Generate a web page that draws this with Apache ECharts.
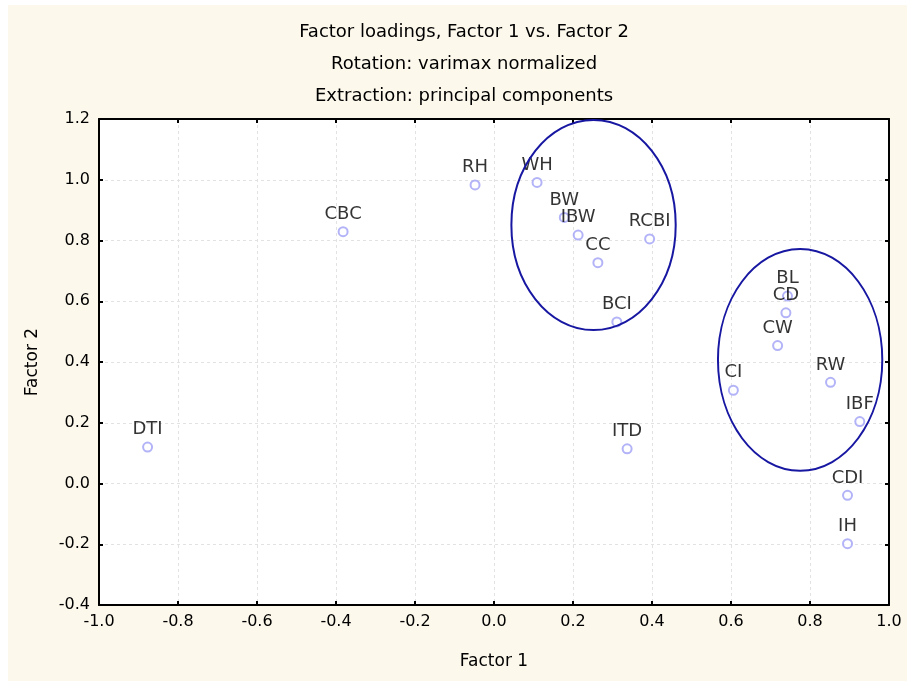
<!DOCTYPE html>
<html>
<head>
<meta charset="utf-8">
<script src="https://cdn.jsdelivr.net/npm/echarts@6/dist/echarts.min.js"></script>
<style>
  html, body { margin: 0; padding: 0; background: #ffffff; }
  .panel { position: absolute; left: 8px; top: 5px; width: 899px; height: 676px; background: #fdf8ec; }
  #chart { position: absolute; left: 0; top: 0; width: 907px; height: 681px; }
</style>
</head>
<body>
<div class="panel"></div>
<div id="chart"></div>
<script>
// factor loadings
const varNames = ['DTI', 'CBC', 'RH', 'WH', 'BW', 'IBW', 'CC', 'RCBI', 'BCI', 'ITD', 'BL', 'CD', 'CW', 'CI', 'RW', 'IBF', 'CDI', 'IH']
const factor1 = [-0.877, -0.382, -0.048, 0.109, 0.178, 0.213, 0.263, 0.394, 0.311, 0.337, 0.743, 0.739, 0.718, 0.606, 0.852, 0.926, 0.895, 0.895]
const factor2 = [0.120, 0.829, 0.983, 0.991, 0.876, 0.818, 0.727, 0.805, 0.532, 0.114, 0.617, 0.562, 0.454, 0.307, 0.333, 0.204, -0.039, -0.198]

// grouping ellipses: centre x, centre y, half width, half height (data units)
const ellipseCx = [0.252, 0.775]
const ellipseCy = [0.851, 0.407]
const ellipseRx = [0.208, 0.208]
const ellipseRy = [0.346, 0.365]

const xTicks = { min: -1.0, max: 1.0, interval: 0.2 }
const yTicks = { min: -0.4, max: 1.2, interval: 0.2 }

const chart = echarts.init(document.getElementById('chart'))
const font = 'DejaVu Sans, sans-serif'

const points = varNames.map((n, i) => ({ name: n, value: [factor1[i], factor2[i]] }))
const ellipses = ellipseCx.map((cx, i) => [cx, ellipseCy[i], ellipseRx[i], ellipseRy[i]])

const baseAxis = {
  axisLine: { show: true, onZero: false, lineStyle: { color: '#000', width: 2 } },
  axisTick: { show: true, inside: true, length: 4, lineStyle: { color: '#000', width: 2 } },
  splitLine: { show: false }
}
const gridLine = { show: true, lineStyle: { color: '#e2e2e2', type: [3, 3], width: 1 } }

const option = {
  animation: false,
  backgroundColor: 'transparent',
  title: {
    text: 'Factor loadings, Factor 1 vs. Factor 2\nRotation: varimax normalized\nExtraction: principal components',
    left: 459,
    textAlign: 'center',
    top: 11,
    textStyle: { fontFamily: font, fontSize: 18, fontWeight: 'normal', color: '#000', lineHeight: 32 }
  },
  grid: { left: 99, right: 18, top: 119, bottom: 76, show: true, backgroundColor: '#ffffff', borderWidth: 0 },
  xAxis: [
    {
      ...baseAxis,
      type: 'value', position: 'bottom',
      min: xTicks.min, max: xTicks.max, interval: xTicks.interval,
      name: 'Factor 1', nameLocation: 'middle', nameGap: 48,
      nameTextStyle: { fontFamily: font, fontSize: 17, color: '#000' },
      axisLabel: { fontFamily: font, fontSize: 16, color: '#000', margin: 9, formatter: v => v.toFixed(1) },
      splitLine: gridLine
    },
    {
      ...baseAxis,
      type: 'value', position: 'top',
      min: xTicks.min, max: xTicks.max, interval: xTicks.interval,
      axisLabel: { show: false }
    }
  ],
  yAxis: [
    {
      ...baseAxis,
      type: 'value', position: 'left',
      min: yTicks.min, max: yTicks.max, interval: yTicks.interval,
      name: 'Factor 2', nameLocation: 'middle', nameGap: 58,
      nameTextStyle: { fontFamily: font, fontSize: 17, color: '#000' },
      axisLabel: { fontFamily: font, fontSize: 16, color: '#000', margin: 9, formatter: v => v.toFixed(1) },
      splitLine: gridLine
    },
    {
      ...baseAxis,
      type: 'value', position: 'right',
      min: yTicks.min, max: yTicks.max, interval: yTicks.interval,
      axisLabel: { show: false }
    }
  ],
  series: [
    {
      type: 'scatter',
      data: points,
      symbol: 'emptyCircle',
      symbolSize: 9,
      itemStyle: { color: '#a0a0f6', borderColor: '#a0a0f6', borderWidth: 1 },
      label: {
        show: true,
        position: 'top',
        distance: 3,
        formatter: '{b}',
        fontFamily: font,
        fontSize: 18,
        color: '#000'
      },
      z: 3
    },
    {
      type: 'custom',
      data: ellipses,
      renderItem: (params, api) => {
        const c = api.coord([api.value(0), api.value(1)])
        const s = api.size([api.value(2), api.value(3)])
        return {
          type: 'ellipse',
          shape: { cx: c[0], cy: c[1], rx: s[0], ry: s[1] },
          style: { fill: 'none', stroke: '#1717a2', lineWidth: 2 }
        }
      },
      silent: true,
      z: 4
    }
  ]
}

chart.setOption(option)
</script>
</body>
</html>
